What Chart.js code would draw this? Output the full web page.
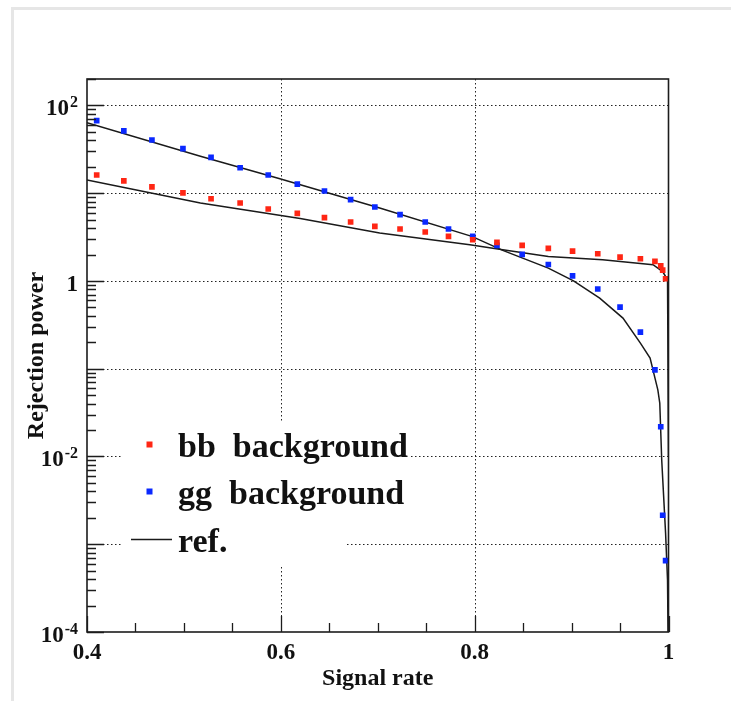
<!DOCTYPE html>
<html>
<head>
<meta charset="utf-8">
<script src="https://cdn.jsdelivr.net/npm/chart.js@4.4.1/dist/chart.umd.min.js"></script>
<style>
  html, body { margin: 0; padding: 0; background: #fff; }
  canvas { display: block; }
</style>
</head>
<body>
<canvas id="roc" width="731" height="701"></canvas>
<script>
// Signal efficiency of each cut and the rejection it gives against each background
const signalRate = [0.410, 0.438, 0.467, 0.499, 0.528, 0.558, 0.587, 0.617, 0.645, 0.672,
                    0.697, 0.723, 0.749, 0.773, 0.798, 0.823, 0.849, 0.876, 0.901, 0.927,
                    0.950, 0.971, 0.986, 0.992, 0.994, 0.997];
const bbRejection = [16.1, 13.8, 11.8, 10.1, 8.65, 7.73, 6.61, 5.89, 5.26, 4.70,
                     4.18, 3.91, 3.61, 3.22, 2.95, 2.75, 2.54, 2.35, 2.19, 2.04,
                     1.87, 1.79, 1.67, 1.49, 1.33, 1.06];
const ggRejection = [67.1, 51.2, 40.4, 32.2, 25.6, 19.5, 16.1, 12.7, 10.6, 8.43,
                     6.96, 5.69, 4.70, 3.91, 3.22, 2.54, 2.01, 1.54, 1.14, 0.809,
                     0.504, 0.261, 0.0971, 0.0218, 0.00214, 0.00065];

// Reference curves
const bbRefRate = [0.400, 0.517, 0.620, 0.702, 0.795, 0.829, 0.876, 0.932, 0.984, 0.994, 0.999, 1.000];
const bbRefRejection = [14.1, 7.73, 5.15, 3.52, 2.59, 2.27, 1.90, 1.74, 1.53, 1.28, 1.03, 0.01];
const ggRefRate = [0.400, 0.517, 0.599, 0.702, 0.797, 0.829, 0.876, 0.902, 0.929, 0.953,
                   0.971, 0.981, 0.989, 0.991, 0.993, 0.995, 0.997, 0.999, 0.9995];
const ggRefRejection = [63.7, 26.3, 14.6, 6.78, 3.22, 2.23, 1.40, 1.00, 0.638, 0.377,
                        0.196, 0.132, 0.0574, 0.0405, 0.00914, 0.00349, 0.00133, 0.00039, 0.0001];

// Axis ticks and labels
const xTickValues = [0.4, 0.6, 0.8, 1.0];
const xTickLabels = ['0.4', '0.6', '0.8', '1'];
const yTickValues = [1e-4, 1e-2, 1, 1e2];
const yTickLabels = [['10', '-4'], ['10', '-2'], ['1', ''], ['10', '2']];
const xGridValues = [0.6, 0.8];
const yGridValues = [1e-3, 1e-2, 1e-1, 1, 1e1, 1e2];

const legendLabels = ['bb  background', 'gg  background', 'ref.'];

const RED = '#ff2614';
const BLUE = '#0a28ff';
const FONT = '"Liberation Serif", "Times New Roman", serif';

const pairs = (xs, ys) => xs.map((v, i) => ({ x: v, y: ys[i] }));

const rocDecor = {
  id: 'rocDecor',
  beforeDraw(chart) {
    const { ctx, chartArea: a, scales: { x, y } } = chart;
    ctx.save();
    ctx.fillStyle = '#fff';
    ctx.fillRect(0, 0, chart.width, chart.height);
    // panel border
    ctx.strokeStyle = '#e6e6e6';
    ctx.lineWidth = 3;
    ctx.beginPath();
    ctx.moveTo(12.5, chart.height);
    ctx.lineTo(12.5, 8.5);
    ctx.lineTo(chart.width, 8.5);
    ctx.stroke();
    // dotted grid
    ctx.strokeStyle = '#222';
    ctx.lineWidth = 1;
    ctx.setLineDash([1.5, 2.5]);
    ctx.beginPath();
    xGridValues.forEach(v => {
      const px = Math.round(x.getPixelForValue(v)) + 0.5;
      ctx.moveTo(px, a.top); ctx.lineTo(px, a.bottom);
    });
    yGridValues.forEach(v => {
      const py = Math.round(y.getPixelForValue(v)) + 0.5;
      ctx.moveTo(a.left, py); ctx.lineTo(a.right, py);
    });
    ctx.stroke();
    ctx.setLineDash([]);
    // legend background
    ctx.fillStyle = '#fff';
    ctx.fillRect(123, 423, 222, 144);
    ctx.fillRect(345, 423, 64, 82);
    ctx.restore();
  },
  afterDatasetsDraw(chart) {
    const { ctx, chartArea: a, scales: { x, y } } = chart;
    ctx.save();
    // frame
    ctx.strokeStyle = '#1c1c1c';
    ctx.lineWidth = 1.6;
    ctx.strokeRect(a.left, a.top, a.right - a.left, a.bottom - a.top);

    // y ticks (log): decades long, 2..9 short
    ctx.lineWidth = 1.3;
    ctx.beginPath();
    for (let k = -4; k <= 2; k++) {
      for (let m = 1; m <= 9; m++) {
        const v = m * Math.pow(10, k);
        if (v < y.min || v > y.max) continue;
        const py = Math.round(y.getPixelForValue(v)) + 0.5;
        ctx.moveTo(a.left, py);
        ctx.lineTo(a.left + (m === 1 ? 17 : 9), py);
      }
    }
    // x ticks every 0.05, long at labelled values
    for (let i = 0; i <= 12; i++) {
      const v = 0.4 + i * 0.05;
      const px = Math.round(x.getPixelForValue(v)) + 0.5;
      ctx.moveTo(px, a.bottom);
      ctx.lineTo(px, a.bottom - (i % 4 === 0 ? 16 : 9));
    }
    ctx.stroke();

    ctx.fillStyle = '#111';
    // x tick labels
    ctx.font = 'bold 23px ' + FONT;
    ctx.textAlign = 'center';
    ctx.textBaseline = 'alphabetic';
    xTickValues.forEach((v, i) => {
      ctx.fillText(xTickLabels[i], x.getPixelForValue(v), a.bottom + 27);
    });
    // y tick labels with exponents
    yTickValues.forEach((v, i) => {
      const py = y.getPixelForValue(v);
      const [base, exp] = yTickLabels[i];
      const right = a.left - 9;
      ctx.textAlign = 'right';
      let baseRight = right;
      if (exp) {
        ctx.font = 'bold 16px ' + FONT;
        ctx.fillText(exp, right, py + 2);
        baseRight = right - ctx.measureText(exp).width - 1;
      }
      ctx.font = 'bold 23px ' + FONT;
      ctx.fillText(base, baseRight, py + 10);
    });
    // axis titles
    ctx.font = 'bold 24px ' + FONT;
    ctx.textAlign = 'center';
    ctx.fillText('Signal rate', (a.left + a.right) / 2, a.bottom + 53);
    ctx.save();
    ctx.translate(43, (a.top + a.bottom) / 2);
    ctx.rotate(-Math.PI / 2);
    ctx.fillText('Rejection power', 0, 0);
    ctx.restore();

    // legend entries
    const rows = [457, 504, 551.5];
    ctx.fillStyle = RED;
    ctx.fillRect(146.5, 441.5, 6, 6);
    ctx.fillStyle = BLUE;
    ctx.fillRect(146.5, 488.5, 6, 6);
    ctx.strokeStyle = '#1a1a1a';
    ctx.lineWidth = 1.5;
    ctx.beginPath();
    ctx.moveTo(131, 539.5); ctx.lineTo(172, 539.5);
    ctx.stroke();
    ctx.fillStyle = '#111';
    ctx.font = 'bold 34px ' + FONT;
    ctx.textAlign = 'left';
    legendLabels.forEach((t, i) => ctx.fillText(t, 178, rows[i]));
    ctx.restore();
  }
};

new Chart(document.getElementById('roc'), {
  type: 'scatter',
  data: {
    datasets: [
      { label: 'bb background', data: pairs(signalRate, bbRejection), pointStyle: 'rect',
        pointRadius: 4, backgroundColor: RED, borderWidth: 0, order: 1 },
      { label: 'gg background', data: pairs(signalRate, ggRejection), pointStyle: 'rect',
        pointRadius: 4, backgroundColor: BLUE, borderWidth: 0, order: 1 },
      { label: 'ref.', data: pairs(bbRefRate, bbRefRejection), showLine: true, pointRadius: 0,
        borderColor: '#1a1a1a', borderWidth: 1.5, fill: false, order: 2 },
      { label: 'ref.', data: pairs(ggRefRate, ggRefRejection), showLine: true, pointRadius: 0,
        borderColor: '#1a1a1a', borderWidth: 1.5, fill: false, order: 2 }
    ]
  },
  options: {
    responsive: false,
    devicePixelRatio: 1,
    animation: false,
    events: [],
    layout: { padding: { left: 87, top: 79, right: 62.5, bottom: 69 } },
    plugins: { legend: { display: false }, tooltip: { enabled: false } },
    scales: {
      x: { type: 'linear', min: 0.4, max: 1.0, display: false },
      y: { type: 'logarithmic', min: 1e-4, max: 200, display: false }
    }
  },
  plugins: [rocDecor]
});
</script>
</body>
</html>
